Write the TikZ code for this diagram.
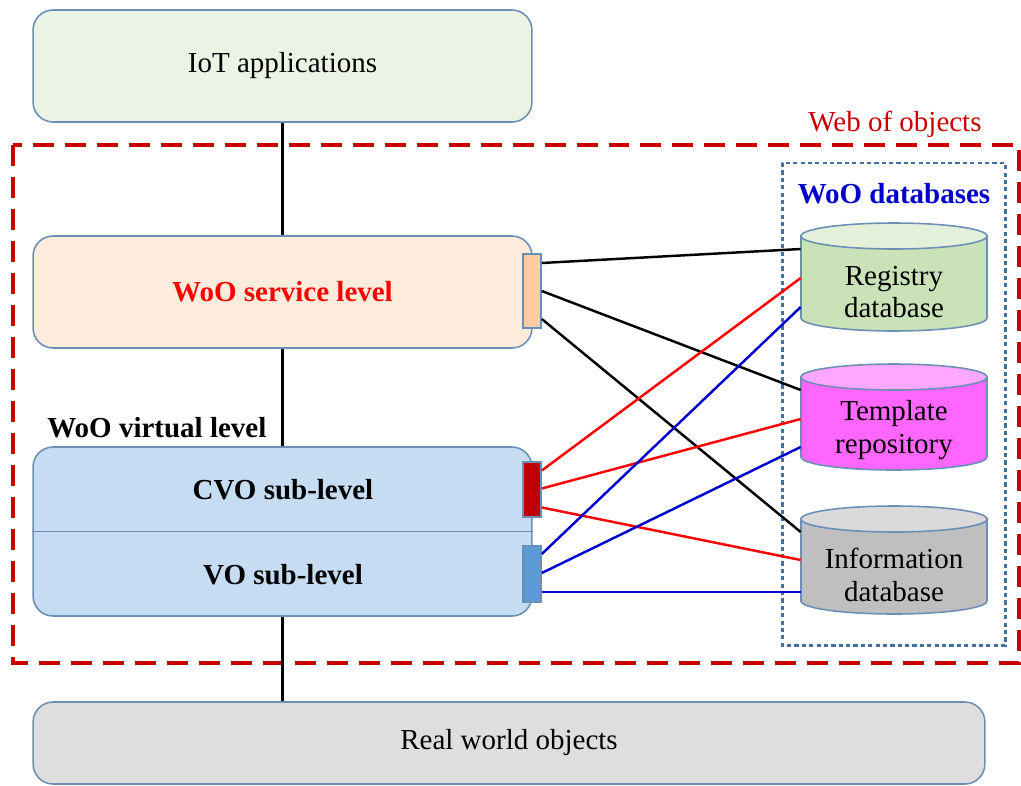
\documentclass[tikz,border=0pt]{standalone}
\usepackage{fontspec}
\setmainfont{Liberation Serif}
\usetikzlibrary{calc}
\definecolor{boxline}{RGB}{108,143,182}
\definecolor{iotfill}{RGB}{235,244,228}
\definecolor{svcfill}{RGB}{253,235,220}
\definecolor{virtfill}{RGB}{197,220,242}
\definecolor{realfill}{RGB}{222,222,222}
\definecolor{svcport}{RGB}{255,203,162}
\definecolor{cvoport}{RGB}{192,0,0}
\definecolor{voport}{RGB}{91,155,213}
\definecolor{regbody}{RGB}{201,226,184}
\definecolor{regtop}{RGB}{228,241,218}
\definecolor{tplbody}{RGB}{255,102,255}
\definecolor{tpltop}{RGB}{255,166,255}
\definecolor{infobody}{RGB}{191,191,191}
\definecolor{infotop}{RGB}{218,218,218}
\definecolor{woored}{RGB}{200,0,0}
\definecolor{dbblue}{RGB}{0,0,204}
\definecolor{dbframe}{RGB}{65,113,156}
\definecolor{linkred}{RGB}{255,0,0}
\definecolor{linkblue}{RGB}{0,0,204}
\newcommand\bigtxt{\fontsize{16.5}{18.7}\selectfont}
% name, top, bottom, body colour, top colour, text y, text
\newcommand\dbcyl[7]{%
\filldraw[draw=boxline, line width=0.9pt, fill=#4] (801,#2+13) -- (801,#3-13)
  arc[start angle=180, end angle=360, x radius=1.86cm, y radius=0.26cm] -- (987,#2+13) -- cycle;
\filldraw[draw=boxline, line width=0.9pt, fill=#5] (894,#2+13) ellipse[x radius=1.86cm, y radius=0.26cm];
\node[dbtext] (#1) at (894,#6) {#7};}

\begin{document}
\begin{tikzpicture}[x=0.02cm,y=-0.02cm,
  box/.style={draw=boxline, line width=0.9pt, rounded corners=0.4cm,
    minimum width=9.98cm, minimum height=2.24cm, font=\bigtxt},
  port/.style={draw=boxline, line width=0.9pt, minimum width=0.36cm, inner sep=0pt},
  dbtext/.style={minimum width=3.72cm, inner sep=0pt, align=center, font=\bigtxt},
  link/.style={line width=1.4pt}]
\useasboundingbox (0,0) rectangle (1021,785);

% frames
\draw[woored, line width=1.8pt, dash pattern=on 0.42cm off 0.22cm] (13,145) rectangle (1019,663);
\draw[dbframe, line width=1.7pt, dash pattern=on 2.4pt off 1.8pt] (782,163) rectangle (1005,645);
\node[text=woored, font=\bigtxt, anchor=base] (woo) at (895,131) {Web of objects};
\node[text=dbblue, font=\bigtxt\bfseries, anchor=base] (dbs) at (894,203) {WoO databases};

% levels
\node[box, fill=iotfill] (iot) at (282.5,66) {IoT applications};
\node[box, fill=svcfill, text=linkred, font=\bigtxt\bfseries] (svc) at (282.5,292) {WoO service level};
\node[box, fill=virtfill, minimum height=3.38cm] (virt) at (282.5,531.5) {};
\draw[boxline, line width=0.9pt] (virt.west) -- (virt.east);
\node[font=\bigtxt\bfseries] (cvo) at (283,490) {CVO sub-level};
\node[font=\bigtxt\bfseries] (vo) at (283,575) {VO sub-level};
\node[font=\bigtxt\bfseries, anchor=base west, inner sep=0pt] (vlab) at (47,437) {WoO virtual level};
\node[box, fill=realfill, minimum width=19.04cm, minimum height=1.64cm] (real) at (509,743) {Real world objects};

\draw[link] (iot) -- (svc);
\draw[link] (svc) -- (virt);
\draw[link] (virt.south) -- (virt.south |- real.north);

% ports
\node[port, fill=svcport, minimum height=1.48cm] (svcp) at (532,291) {};
\node[port, fill=cvoport, minimum height=1.1cm] (cvop) at (532,489.5) {};
\node[port, fill=voport, minimum height=1.12cm] (vop) at (532,574) {};
\foreach\p/\a/\b/\c in{svcp/-28/0/28, cvop/-19/-1/18, vop/-20/-1/18}{
  \coordinate (\p-1) at ($(\p.east)+(0,\a)$);
  \coordinate (\p-2) at ($(\p.east)+(0,\b)$);
  \coordinate (\p-3) at ($(\p.east)+(0,\c)$);}

% databases
\dbcyl{reg}{223}{331}{regbody}{regtop}{292}{Registry\\database}
\dbcyl{tpl}{364}{470}{tplbody}{tpltop}{430}{Template\\repository}
\dbcyl{info}{506}{614}{infobody}{infotop}{575}{Information\\database}
\foreach\d/\a/\b/\c in{reg/-43/-14/15, tpl/-40/-11/17, info/-43/-15/17}{
  \coordinate (\d-1) at ($(\d.west)+(0,\a)$);
  \coordinate (\d-2) at ($(\d.west)+(0,\b)$);
  \coordinate (\d-3) at ($(\d.west)+(0,\c)$);}

\foreach\p/\col/\k in{svcp/black/1, cvop/linkred/2, vop/linkblue/3}
  \foreach\d/\j in{reg/1, tpl/2, info/3}
    \draw[link, \col] (\p-\j) -- (\d-\k);
\end{tikzpicture}
\end{document}
